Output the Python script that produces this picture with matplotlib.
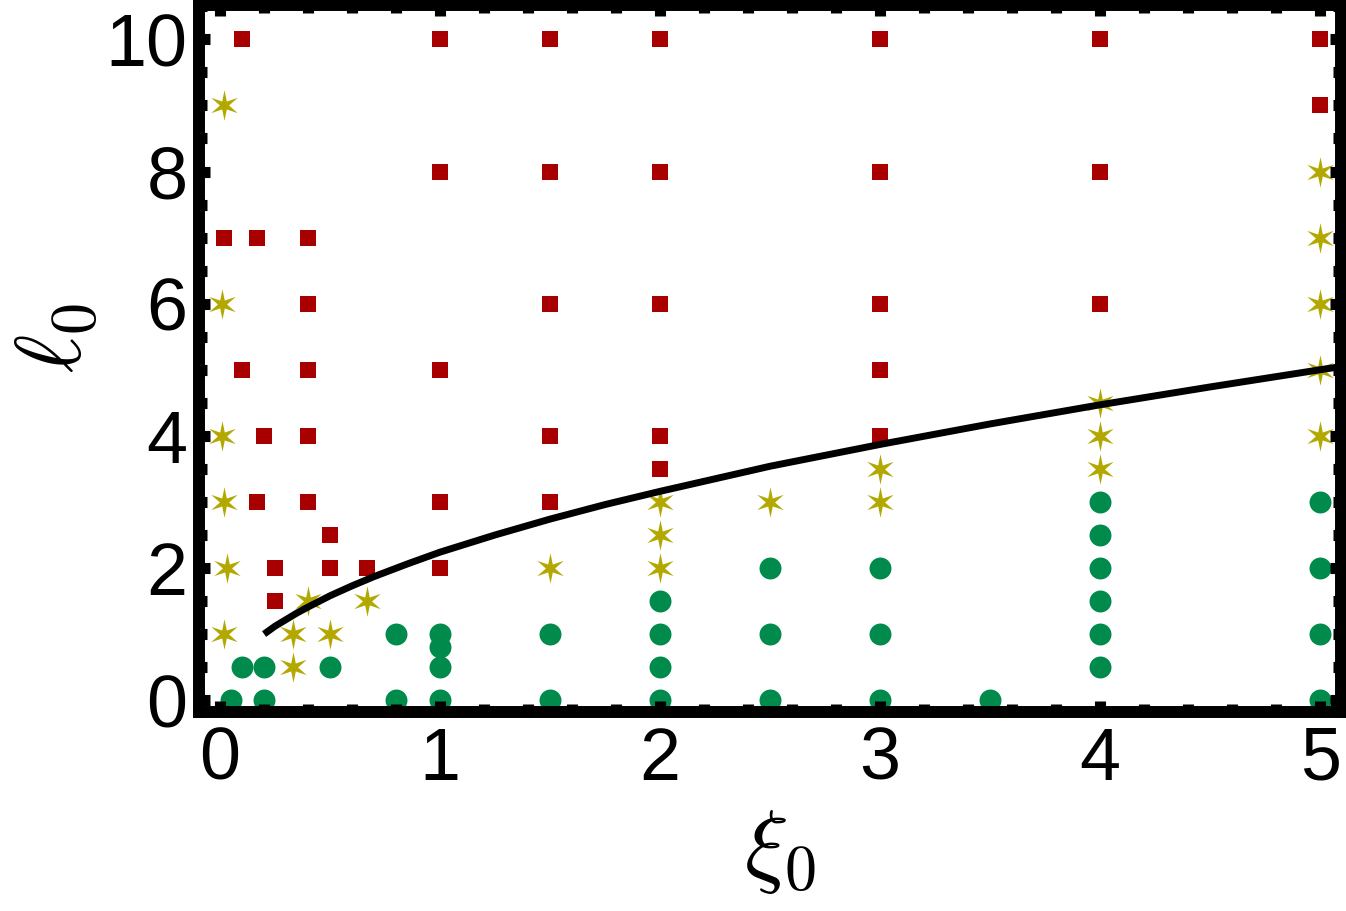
import numpy as np
import matplotlib.pyplot as plt
from matplotlib.path import Path
from matplotlib.ticker import MultipleLocator

plt.rcParams['font.family'] = 'Liberation Sans'
plt.rcParams['mathtext.fontset'] = 'cm'

# red squares
sq_x = [0.1, 1, 1.5, 2, 3, 4, 5,
        5,
        1, 1.5, 2, 3, 4,
        0.02, 0.167, 0.4,
        0.4, 1.5, 2, 3, 4,
        0.1, 0.4, 1, 3,
        0.2, 0.4, 1.5, 2, 3,
        2,
        0.167, 0.4, 1, 1.5,
        0.5,
        0.25, 0.5, 0.667, 1,
        0.25]
sq_y = [10, 10, 10, 10, 10, 10, 10,
        9,
        8, 8, 8, 8, 8,
        7, 7, 7,
        6, 6, 6, 6, 6,
        5, 5, 5, 5,
        4, 4, 4, 4, 4,
        3.5,
        3, 3, 3, 3,
        2.5,
        2, 2, 2, 2,
        1.5]

# olive stars
st_x = [0.02, 0.01, 0.01, 0.02, 0.03, 0.02,
        0.4, 0.667, 0.333, 0.5, 0.333,
        1.5, 2, 2, 2, 2.5, 3, 3,
        4, 4, 4, 5, 5, 5, 5, 5]
st_y = [9, 6, 4, 3, 2, 1,
        1.5, 1.5, 1, 1, 0.5,
        2, 3, 2.5, 2, 3, 3.5, 3,
        4.5, 4, 3.5, 8, 7, 6, 5, 4]

# green circles
ci_x = [0.05, 0.2, 0.8, 1, 1.5, 2, 2.5, 3, 3.5, 5,
        0.1, 0.2, 0.5, 1, 2, 4,
        0.8, 1, 1.5, 2, 2.5, 3, 4, 5,
        1, 2, 4,
        2.5, 3, 4, 5,
        4, 4, 5]
ci_y = [0, 0, 0, 0, 0, 0, 0, 0, 0, 0,
        0.5, 0.5, 0.5, 0.5, 0.5, 0.5,
        1, 1, 1, 1, 1, 1, 1, 1,
        0.8, 1.5, 1.5,
        2, 2, 2, 2,
        2.5, 3, 3]

# boundary curve
curve_x = [0.2, 0.25, 0.3, 0.35, 0.4, 0.5, 0.6, 0.7, 0.85, 1, 1.25, 1.5, 1.75,
           2, 2.5, 3, 3.5, 4, 4.5, 5, 5.1]
curve_y = [1.0, 1.12, 1.22, 1.32, 1.41, 1.58, 1.73, 1.87, 2.06, 2.24, 2.5, 2.74,
           2.96, 3.16, 3.54, 3.87, 4.18, 4.47, 4.74, 5.0, 5.05]

red = '#A80000'
olive = '#B3A800'
green = '#008A4C'

# six-armed star marker
ang = np.deg2rad(90 + 30 * np.arange(12))
rad = np.tile([1.0, 0.3], 6)
verts = np.column_stack([rad * np.cos(ang), rad * np.sin(ang)])
verts = np.vstack([verts, verts[:1]])
codes = [Path.MOVETO] + [Path.LINETO] * 11 + [Path.CLOSEPOLY]
star = Path(verts, codes)

fig = plt.figure(figsize=(13.46, 9.11), dpi=100)
ax = fig.add_axes([0.1475, 0.2184, 0.8488, 0.7761])

ax.plot(sq_x, sq_y, ls='none', marker='s', ms=11.5, color=red, mew=0, zorder=2)
ax.plot(st_x, st_y, ls='none', marker=star, ms=22, color=olive, mew=0, zorder=2)
ax.plot(ci_x, ci_y, ls='none', marker='o', ms=15.8, color=green, mew=0, zorder=2)
ax.plot(curve_x, curve_y, color='k', lw=5, solid_capstyle='butt', zorder=2.2)

ax.set_xlim(-0.098, 5.095)
ax.set_ylim(-0.18, 10.52)

ax.xaxis.set_major_locator(MultipleLocator(1))
ax.xaxis.set_minor_locator(MultipleLocator(0.2))
ax.yaxis.set_major_locator(MultipleLocator(2))
ax.yaxis.set_minor_locator(MultipleLocator(0.5))

ax.set_axisbelow(False)
for s in ax.spines.values():
    s.set_linewidth(8.6)
    s.set_zorder(3)

ax.tick_params(which='both', direction='in', top=True, right=True, width=8)
ax.tick_params(which='major', length=8, labelsize=53)
ax.tick_params(which='minor', length=5.8)
ax.tick_params(axis='x', which='major', pad=10)
ax.tick_params(axis='y', which='major', pad=8)

ax.set_xlabel(r'$\xi_0$', fontsize=66, va='center')
ax.xaxis.set_label_coords(0.509, -0.198)
ax.set_ylabel(r'$\ell_0$', fontsize=66, va='center', rotation=90)
ax.yaxis.set_label_coords(-0.124, 0.529)

fig.savefig('out.png', dpi=100)
